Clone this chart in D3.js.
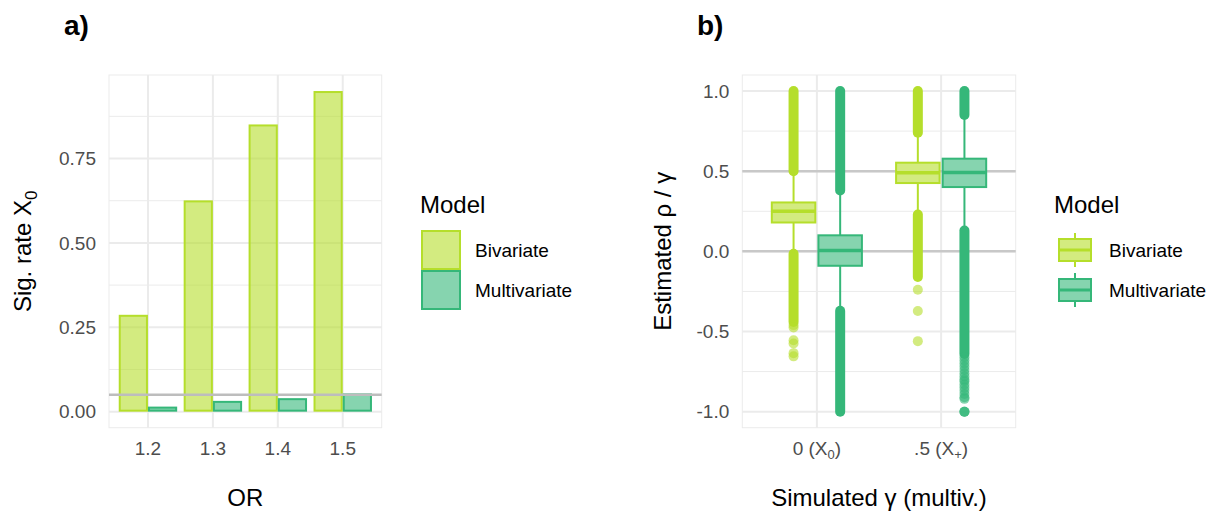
<!DOCTYPE html>
<html>
<head>
<meta charset="utf-8">
<script src="https://cdn.jsdelivr.net/npm/d3@7"></script>
<style>
  html, body { margin: 0; padding: 0; background: #fff; }
  svg { display: block; font-family: "Liberation Sans", Arial, Helvetica, sans-serif; }
</style>
</head>
<body>
<svg id="chart" width="1220" height="514"></svg>
<script>
// ---------------- DATA ----------------
const models = ["Bivariate", "Multivariate"];
const modelColors = ["#b5de2b", "#35b779"];

// Panel a
const orCategories = ["1.2", "1.3", "1.4", "1.5"];
const sigBivariate = [0.287, 0.626, 0.851, 0.950];
const sigMultivariate = [0.015, 0.032, 0.040, 0.054];
const alphaLevel = 0.05;
const sigTicks = [0, 0.25, 0.5, 0.75];
const sigMinorTicks = [0.125, 0.375, 0.625, 0.875];

// Panel b
const gammaCategories = ["0", ".5"];
const gammaSubscripts = ["0", "+"];
const estTicks = [-1, -0.5, 0, 0.5, 1];
const estMinorTicks = [-0.75, -0.25, 0.25, 0.75];
const refLines = [0, 0.5];
// box statistics per gamma category: [lowerWhisker, q1, median, q3, upperWhisker]
const boxBivariate = [[-0.005, 0.18, 0.25, 0.305, 0.49], [0.24, 0.426, 0.49, 0.553, 0.73]];
const boxMultivariate = [[-0.36, -0.09, 0.005, 0.10, 0.37], [0.14, 0.401, 0.492, 0.578, 0.84]];
// dense stretches of outliers (many overlapping points) as [from, to]
const denseOutliersBivariate = [[[0.50, 1.0], [-0.44, -0.015]], [[0.74, 1.0], [-0.16, 0.23]]];
const denseOutliersMultivariate = [[[0.38, 1.0], [-1.0, -0.37]], [[0.85, 1.0], [-0.64, 0.13]]];
// individually visible outliers
const sparseOutliersBivariate = [[-0.46, -0.475, -0.555, -0.575, -0.635, -0.655], [-0.24, -0.372, -0.56]];
const sparseOutliersMultivariate = [[], [-0.66, -0.68, -0.70, -0.72, -0.74, -0.76, -0.78, -0.80, -0.81, -0.83, -0.85, -0.87, -0.89, -0.91, -0.92, -1.0, -1.0, -1.0]];

// ---------------- DRAW ----------------
const svg = d3.select("#chart");
const gridCol = "#ebebeb";
const tickCol = "#4d4d4d";

function fade(c, a) {
  const col = d3.color(c);
  return `rgb(${Math.round(col.r * a + 255 * (1 - a))},${Math.round(col.g * a + 255 * (1 - a))},${Math.round(col.b * a + 255 * (1 - a))})`;
}

// ====== Panel a ======
const A = { left: 109, right: 381.7, top: 75, bottom: 427.7 };
const xa = d3.scaleLinear().domain([0.4, orCategories.length + 0.6]).range([A.left, A.right]);
const ya = d3.scaleLinear().domain([-0.0475, 0.9975]).range([A.bottom, A.top]);
const ga = svg.append("g");

ga.append("rect").attr("x", A.left).attr("y", A.top).attr("width", A.right - A.left).attr("height", A.bottom - A.top)
  .attr("fill", "none").attr("stroke", gridCol).attr("stroke-width", 1);
ga.selectAll(".minor").data(sigMinorTicks).join("line")
  .attr("x1", A.left).attr("x2", A.right).attr("y1", d => ya(d)).attr("y2", d => ya(d))
  .attr("stroke", gridCol).attr("stroke-width", 1);
ga.selectAll(".major").data(sigTicks).join("line")
  .attr("x1", A.left).attr("x2", A.right).attr("y1", d => ya(d)).attr("y2", d => ya(d))
  .attr("stroke", gridCol).attr("stroke-width", 2);
ga.selectAll(".vmajor").data(orCategories).join("line")
  .attr("x1", (d, i) => xa(i + 1)).attr("x2", (d, i) => xa(i + 1)).attr("y1", A.top).attr("y2", A.bottom)
  .attr("stroke", gridCol).attr("stroke-width", 2);

const seriesA = [sigBivariate, sigMultivariate];
const barW = 0.45;
seriesA.forEach((vals, s) => {
  ga.selectAll(".bar" + s).data(vals).join("rect")
    .attr("x", (d, i) => xa(i + 1 - barW + s * barW) + 1)
    .attr("width", (d, i) => xa(i + 1 + barW) - xa(i + 1) - 2)
    .attr("y", d => ya(d) + 1)
    .attr("height", d => Math.max(0, ya(0) - ya(d) - 2))
    .attr("fill", modelColors[s]).attr("fill-opacity", 0.6)
    .attr("stroke", modelColors[s]).attr("stroke-width", 2);
});
ga.append("line").attr("x1", A.left).attr("x2", A.right).attr("y1", ya(alphaLevel)).attr("y2", ya(alphaLevel))
  .attr("stroke", "#bdbdbd").attr("stroke-width", 2.5);

// axes text
ga.selectAll(".ytl").data(sigTicks).join("text")
  .attr("x", A.left - 13).attr("y", d => ya(d)).attr("dy", "0.35em")
  .attr("text-anchor", "end").attr("font-size", 19).attr("fill", tickCol)
  .text(d => d3.format(".2f")(d));
ga.selectAll(".xtl").data(orCategories).join("text")
  .attr("x", (d, i) => xa(i + 1)).attr("y", 455)
  .attr("text-anchor", "middle").attr("font-size", 19).attr("fill", tickCol).text(d => d);
ga.append("text").attr("x", (A.left + A.right) / 2).attr("y", 506).attr("text-anchor", "middle")
  .attr("font-size", 24).attr("fill", "#000").text("OR");
const yta = ga.append("text").attr("transform", `translate(31,${(A.top + A.bottom) / 2}) rotate(-90)`)
  .attr("text-anchor", "middle").attr("font-size", 24).attr("fill", "#000");
yta.append("tspan").text("Sig. rate X");
yta.append("tspan").attr("font-size", 17).attr("dy", 6).text("0");
ga.append("text").attr("x", 64).attr("y", 35).attr("font-size", 28).attr("font-weight", "bold").text("a)");

// legend a
const la = ga.append("g");
la.append("text").attr("x", 420).attr("y", 213).attr("font-size", 24).text("Model");
models.forEach((m, i) => {
  const y0 = 230 + i * 40;
  la.append("rect").attr("x", 422).attr("y", y0 + 1).attr("width", 38).attr("height", 38)
    .attr("fill", modelColors[i]).attr("fill-opacity", 0.6).attr("stroke", modelColors[i]).attr("stroke-width", 2);
  la.append("text").attr("x", 475).attr("y", y0 + 20).attr("dy", "0.35em").attr("font-size", 19).text(m);
});

// ====== Panel b ======
const B = { left: 742.3, right: 1015.7, top: 75, bottom: 427.7 };
const xb = d3.scaleLinear().domain([0.4, gammaCategories.length + 0.6]).range([B.left, B.right]);
const yb = d3.scaleLinear().domain([-1.1, 1.1]).range([B.bottom, B.top]);
const gb = svg.append("g");

gb.append("rect").attr("x", B.left).attr("y", B.top).attr("width", B.right - B.left).attr("height", B.bottom - B.top)
  .attr("fill", "none").attr("stroke", gridCol).attr("stroke-width", 1);
gb.selectAll(".minor").data(estMinorTicks).join("line")
  .attr("x1", B.left).attr("x2", B.right).attr("y1", d => yb(d)).attr("y2", d => yb(d))
  .attr("stroke", gridCol).attr("stroke-width", 1);
gb.selectAll(".major").data(estTicks).join("line")
  .attr("x1", B.left).attr("x2", B.right).attr("y1", d => yb(d)).attr("y2", d => yb(d))
  .attr("stroke", gridCol).attr("stroke-width", 2);
gb.selectAll(".vmajor").data(gammaCategories).join("line")
  .attr("x1", (d, i) => xb(i + 1)).attr("x2", (d, i) => xb(i + 1)).attr("y1", B.top).attr("y2", B.bottom)
  .attr("stroke", gridCol).attr("stroke-width", 2);
gb.selectAll(".ref").data(refLines).join("line")
  .attr("x1", B.left).attr("x2", B.right).attr("y1", d => yb(d)).attr("y2", d => yb(d))
  .attr("stroke", "#c8c8c8").attr("stroke-width", 2.5);

const boxes = [boxBivariate, boxMultivariate];
const dense = [denseOutliersBivariate, denseOutliersMultivariate];
const sparse = [sparseOutliersBivariate, sparseOutliersMultivariate];
const dodge = 0.1875, boxHalf = 0.175, ptR = 5;
gammaCategories.forEach((g, gi) => {
  models.forEach((m, s) => {
    const cx = gi + 1 + (s === 0 ? -dodge : dodge);
    const col = modelColors[s];
    const [lo, q1, med, q3, hi] = boxes[s][gi];
    // outliers
    dense[s][gi].forEach(([a, b]) => {
      gb.append("line").attr("x1", xb(cx)).attr("x2", xb(cx)).attr("y1", yb(a)).attr("y2", yb(b))
        .attr("stroke", col).attr("stroke-width", 2 * ptR).attr("stroke-linecap", "round");
    });
    gb.selectAll(null).data(sparse[s][gi]).join("circle")
      .attr("cx", xb(cx)).attr("cy", d => yb(d)).attr("r", ptR)
      .attr("fill", col).attr("fill-opacity", 0.6);
    // whiskers
    gb.append("line").attr("x1", xb(cx)).attr("x2", xb(cx)).attr("y1", yb(q3)).attr("y2", yb(hi))
      .attr("stroke", col).attr("stroke-width", 2);
    gb.append("line").attr("x1", xb(cx)).attr("x2", xb(cx)).attr("y1", yb(q1)).attr("y2", yb(lo))
      .attr("stroke", col).attr("stroke-width", 2);
    // box
    gb.append("rect").attr("x", xb(cx - boxHalf)).attr("width", xb(cx + boxHalf) - xb(cx - boxHalf))
      .attr("y", yb(q3)).attr("height", yb(q1) - yb(q3))
      .attr("fill", fade(col, 0.6)).attr("stroke", col).attr("stroke-width", 2);
    gb.append("line").attr("x1", xb(cx - boxHalf)).attr("x2", xb(cx + boxHalf)).attr("y1", yb(med)).attr("y2", yb(med))
      .attr("stroke", col).attr("stroke-width", 3.5);
  });
});

// axes text b
gb.selectAll(".ytl").data(estTicks).join("text")
  .attr("x", B.left - 13).attr("y", d => yb(d)).attr("dy", "0.35em")
  .attr("text-anchor", "end").attr("font-size", 19).attr("fill", tickCol)
  .text(d => d3.format(".1f")(d).replace("−", "-"));
gammaCategories.forEach((g, i) => {
  const t = gb.append("text").attr("x", xb(i + 1)).attr("y", 455).attr("text-anchor", "middle")
    .attr("font-size", 19).attr("fill", tickCol);
  t.append("tspan").text(g + " (X");
  t.append("tspan").attr("font-size", 13).attr("dy", 4).text(gammaSubscripts[i]);
  t.append("tspan").attr("dy", -4).text(")");
});
gb.append("text").attr("x", (B.left + B.right) / 2).attr("y", 506).attr("text-anchor", "middle")
  .attr("font-size", 24).attr("fill", "#000").text("Simulated γ (multiv.)");
gb.append("text").attr("transform", `translate(671,${(B.top + B.bottom) / 2}) rotate(-90)`)
  .attr("text-anchor", "middle").attr("font-size", 24).attr("fill", "#000").text("Estimated ρ / γ");
gb.append("text").attr("x", 697).attr("y", 35).attr("font-size", 28).attr("font-weight", "bold").text("b)");

// legend b
const lb = gb.append("g");
lb.append("text").attr("x", 1054).attr("y", 213).attr("font-size", 24).text("Model");
models.forEach((m, i) => {
  const y0 = 230 + i * 40, kx = 1055, col = modelColors[i];
  lb.append("line").attr("x1", kx + 20).attr("x2", kx + 20).attr("y1", y0 + 3).attr("y2", y0 + 37)
    .attr("stroke", col).attr("stroke-width", 2);
  lb.append("rect").attr("x", kx + 4).attr("y", y0 + 9).attr("width", 32).attr("height", 22)
    .attr("fill", fade(col, 0.6)).attr("stroke", col).attr("stroke-width", 2);
  lb.append("line").attr("x1", kx + 4).attr("x2", kx + 36).attr("y1", y0 + 20).attr("y2", y0 + 20)
    .attr("stroke", col).attr("stroke-width", 3);
  lb.append("text").attr("x", 1109).attr("y", y0 + 20).attr("dy", "0.35em").attr("font-size", 19).text(m);
});
</script>
</body>
</html>
